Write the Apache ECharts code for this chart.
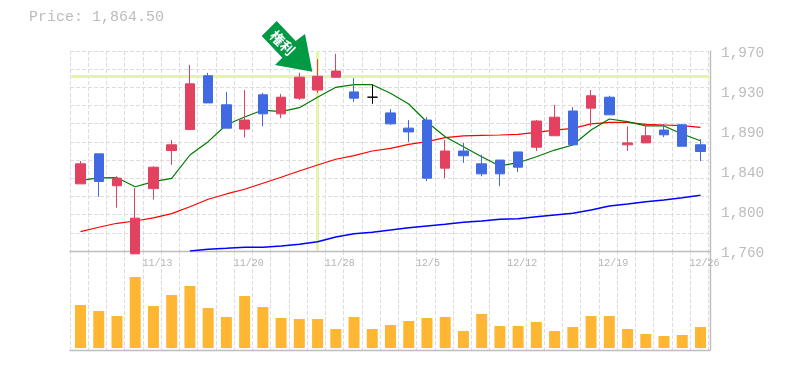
<!DOCTYPE html>
<html><head><meta charset="utf-8">
<style>html,body{margin:0;padding:0;background:#fff}#c{width:785px;height:370px}</style>
<script src="https://cdn.jsdelivr.net/npm/echarts@6/dist/echarts.min.js"></script>
</head><body><div id="c"></div>
<script>
const dates=['11/7','11/8','11/9','11/10','11/13','11/14','11/15','11/16','11/17','11/20','11/21','11/22','11/24','11/27','11/28','11/29','11/30','12/1','12/4','12/5','12/6','12/7','12/8','12/11','12/12','12/13','12/14','12/15','12/18','12/19','12/20','12/21','12/22','12/25','12/26'];
const labelledDates=['11/13','11/20','11/28','12/5','12/12','12/19','12/26'];
const opens=[1830.5,1862,1828.5,1757,1825.5,1865.5,1887.5,1944,1913.5,1888,1924,1904,1920.5,1929,1942.5,1927,1921.5,1905,1889,1897.5,1847,1865,1851.5,1855.5,1864,1869,1881,1907,1910,1921.5,1871.5,1873.5,1887,1892.5,1871.5];
const closes=[1851.5,1833,1836.5,1794.5,1848,1871.5,1935.5,1915.5,1889,1897.5,1904,1921.5,1942.5,1943.5,1949,1920.5,1921.5,1893.5,1885,1836.5,1865,1860,1841,1841,1848,1896.5,1900.5,1871.5,1923,1903,1873.5,1881,1882,1870,1864.5];
const lows=[1830.5,1817,1805.5,1757,1814,1850.5,1887.5,1915.5,1889,1879,1891,1899.5,1918.5,1926,1942.5,1916.5,1914.5,1892.5,1874.5,1833.5,1836.5,1852.5,1838.5,1828,1843,1865,1881,1871.5,1891,1903,1865,1873.5,1879.5,1870,1854.5];
const highs=[1854.5,1862,1838.5,1826,1849,1876.5,1955.5,1947,1927,1929,1926,1925,1947,1961.5,1967,1941.5,1934.5,1909,1897.5,1900.5,1876.5,1873.5,1861,1855.5,1864,1897.5,1913.5,1911,1929,1923,1891,1894,1893.5,1893.5,1877.5];
const ma5=[1834.2,1836.7,1837,1827.5,1832.8,1836.3,1860.8,1874.8,1892.6,1900.7,1908,1906.3,1910.5,1921.4,1931.9,1934.6,1934.6,1925.6,1914.4,1895.5,1880,1869.5,1859,1849.3,1852.7,1859,1866,1871.3,1887,1898.6,1895.8,1891.3,1891.3,1882.9,1875.8];
const ma25=[1780.3,1784.9,1789.1,1791.5,1794.7,1799.2,1806.5,1814.3,1819.9,1824.8,1831.1,1837.4,1844,1850.3,1856.3,1860.1,1865,1867.8,1872,1874.8,1879,1880.8,1881.5,1881.8,1882.5,1884.6,1887,1888.8,1893.4,1895.1,1895.1,1893,1892.3,1891.6,1889.9];
const ma75=[null,null,null,null,null,null,1760,1761.8,1762.8,1763.9,1763.9,1765.3,1767,1769.8,1774.7,1778.2,1779.7,1782,1784.5,1786.3,1788,1790.1,1791.5,1793.3,1793.9,1796,1797.8,1799.6,1803,1807.3,1809.4,1811.8,1813.6,1816,1818.5];
const volumes=[43,37,32,71,42,53,62,40,31,52,41,30,29,29,19,31,19,23,27,30,31,17,34,22,22,26,17,21,32,32,19,14,12,13,21];
const priceTicks=[1760,1802,1844,1886,1928,1970];
const priceTickLabels=['1,760','1,800','1,840','1,890','1,930','1,970'];
const highlightPrice=1944;
const highlightDate='11/27';
const headline='Price: 1,864.50';
const marker='権利';

const MONO='"Liberation Mono",monospace', GREY='#bcbcbc', DASH='#dcdcdc', FRAME='#bdbdbd';
const UP='#e2425f', DOWN='#4169e1', DOJI='#000000', BARW=10;
const candle=dates.map((d,i)=>{
  const item={value:[opens[i],closes[i],lows[i],highs[i]]};
  if(opens[i]===closes[i]) item.itemStyle={color:DOJI,color0:DOJI,borderColor:DOJI,borderColor0:DOJI};
  return item;
});
const hidden={show:false};
const dash={show:true,lineStyle:{color:DASH,width:1,type:[4,2]}};
const cat=(gridIndex,extra)=>Object.assign({type:'category',gridIndex,data:dates,boundaryGap:true,axisLine:hidden,axisTick:hidden,axisLabel:hidden,splitLine:hidden},extra||{});
const val=(gridIndex,min,max,extra)=>Object.assign({type:'value',gridIndex,min,max,axisLine:hidden,axisTick:hidden,axisLabel:hidden,splitLine:hidden},extra||{});
const frameLine={show:true,onZero:false,lineStyle:{color:FRAME,width:1.4}};

const option={
  animation:false,backgroundColor:'#fff',
  title:{text:headline,left:29,top:10,padding:0,textStyle:{fontFamily:MONO,fontSize:15,fontWeight:'normal',color:GREY}},
  grid:[
    {left:70,top:51,width:638.4,height:200},
    {left:70,top:251,width:638.4,height:99},
    {left:70,top:51,width:640,height:200},
    {left:70,top:251,width:640,height:99},
    {left:71.4,top:51,width:638.2,height:200},
    {left:71.4,top:251,width:638.2,height:97},
    {left:60.4,top:251,width:638.2,height:1},
    {left:70,top:53,width:640,height:200}
  ],
  xAxis:[
    cat(0,{splitLine:Object.assign({interval:0},dash)}),
    cat(1,{splitLine:Object.assign({interval:0},dash)}),
    cat(2,{axisLine:frameLine}),
    cat(3,{axisLine:frameLine}),
    cat(4),
    cat(5),
    cat(6,{axisLabel:{show:true,align:'left',margin:6,fontFamily:MONO,fontSize:10,color:'#b4b4b4',hideOverlap:false,
      interval:(i,v)=>labelledDates.includes(v)}}),
    cat(7)
  ],
  yAxis:[
    val(0,0,11,{interval:1,splitLine:dash}),
    val(1,0,1),
    val(2,0,1,{position:'right',axisLine:frameLine}),
    val(3,0,1,{position:'right',axisLine:frameLine}),
    val(4,1760,1970),
    val(5,0,97),
    val(6,0,1),
    val(7,1760,1970,{position:'right',axisLabel:{show:true,customValues:priceTicks,margin:11,align:'left',
      fontFamily:MONO,fontSize:14.4,color:GREY,hideOverlap:false,verticalAlignMinLabel:'middle',verticalAlignMaxLabel:'middle',
      formatter:v=>priceTickLabels[priceTicks.indexOf(v)]}})
  ],
  series:[
    {type:'line',xAxisIndex:4,yAxisIndex:4,data:[],z:1,silent:true,
     markLine:{z:1,silent:true,symbol:'none',label:{show:false},animation:false,
       lineStyle:{color:'#e4f5aa',width:3,type:'solid'},
       data:[{yAxis:highlightPrice},{xAxis:highlightDate}]}},
    {type:'bar',xAxisIndex:5,yAxisIndex:5,data:volumes,barWidth:11,itemStyle:{color:'#ffb733'},z:2},
    {type:'line',xAxisIndex:4,yAxisIndex:4,data:ma75,symbol:'none',lineStyle:{color:'#0000ff',width:1.5},z:3},
    {type:'line',xAxisIndex:4,yAxisIndex:4,data:ma25,symbol:'none',lineStyle:{color:'#ff0000',width:1.2},z:3},
    {type:'line',xAxisIndex:4,yAxisIndex:4,data:ma5,symbol:'none',lineStyle:{color:'#007a00',width:1.2},z:3},
    {type:'candlestick',xAxisIndex:4,yAxisIndex:4,data:candle,barWidth:BARW,clip:false,z:4,
     itemStyle:{color:UP,color0:DOWN,borderColor:UP,borderColor0:DOWN,borderWidth:1}}
  ],
  graphic:[
    {type:'polygon',z:20,shape:{points:[[276.7,21],[261.7,36],[282.3,57.7],[275,65],[312.3,71.7],[305,34],[295.7,41]]},style:{fill:'#009944'}},
    {type:'text',z:21,x:282.5,y:43,rotation:-Math.PI/4,style:{text:marker,fill:'#fff',align:'center',verticalAlign:'middle',font:'bold 14px "Noto Sans CJK JP"'}}
  ]
};
echarts.init(document.getElementById('c'),null,{renderer:'canvas'}).setOption(option);
</script></body></html>
